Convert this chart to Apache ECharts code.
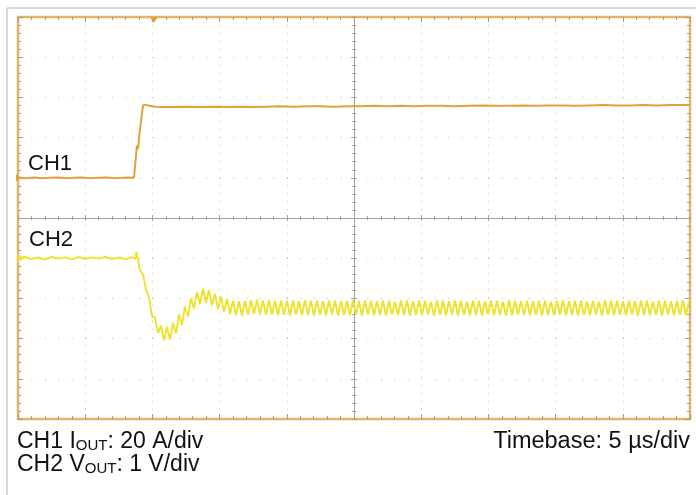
<!DOCTYPE html>
<html><head><meta charset="utf-8">
<script src="https://cdn.jsdelivr.net/npm/echarts@6/dist/echarts.min.js"></script>
<style>html,body{margin:0;padding:0;background:#fff}#c{width:696px;height:495px}</style>
</head><body><div id="c"></div>
<script>
// Time axis in microseconds (5 us/div, 10 divisions); vertical values in screen divisions (0 = bottom, 10 = top)
const timeRange = [0, 50];
const divRange = [0, 10];
const triggerTime = 10.1;

// CH1: output current [time us, division]
const ch1Trace = [
  [0,6.00],[0.6,5.99],[1.2,6.01],[1.8,5.99],[2.4,6.00],[3.0,6.01],[3.6,5.99],[4.2,6.00],[4.8,6.01],[5.4,5.99],
  [6.0,6.00],[6.6,6.01],[7.2,5.99],[7.8,6.00],[8.4,6.01],[8.63,6.00],[8.85,6.80],[8.93,6.72],[9.04,7.10],[9.30,7.80],
  [9.45,7.82],[9.7,7.80],[10.2,7.77],[10.8,7.76],[11.5,7.76],[12.5,7.77],[13.5,7.76],[14.5,7.77],[15.5,7.76],[16.5,7.77],
  [17.5,7.76],[18.5,7.77],[19.5,7.78],[20.5,7.77],[21.5,7.78],[22.5,7.78],[23.5,7.77],[24.5,7.78],[25.5,7.78],[26.5,7.79],
  [27.5,7.78],[28.5,7.79],[29.5,7.78],[30.5,7.79],[31.5,7.79],[32.5,7.78],[33.5,7.79],[34.5,7.80],[35.5,7.79],[36.5,7.79],
  [37.5,7.80],[38.5,7.79],[39.5,7.80],[40.5,7.80],[41.5,7.79],[42.5,7.80],[43.5,7.81],[44.5,7.80],[45.5,7.80],[46.5,7.81],
  [47.5,7.80],[48.5,7.81],[49.5,7.81],[50,7.81]
];

// CH2: output voltage before the load step [time us, division]
const ch2Hold = [
  [0,4.00],[0.5,4.03],[1.0,3.98],[1.5,4.02],[2.0,3.97],[2.5,4.03],[3.0,3.99],[3.5,4.02],[4.0,3.97],[4.5,4.03],
  [5.0,3.98],[5.5,4.02],[6.0,3.99],[6.5,4.03],[7.0,3.98],[7.5,4.02],[8.0,3.97],[8.5,4.03],[8.75,3.98],[8.80,4.15]
];

// CH2 after the step: samples every half switching period
const ch2RippleStart = 8.854;
const ch2RippleStep = 0.2232;
const ch2RippleValues = [
  4.10,3.70,3.60,3.22,3.03,2.55,2.52,2.14,2.32,1.95,
  2.29,1.97,2.39,2.13,2.60,2.34,2.80,2.55,3.00,2.75,
  3.16,2.86,3.24,2.89,3.21,2.83,3.12,2.74,3.05,2.66,
  2.98,2.61,2.94,2.58,2.93,2.57,2.94,2.59,2.96,2.61,
  2.97,2.60,2.95,2.59,2.96,2.60,2.94,2.58,2.95,2.59,
  2.94,2.57,2.95,2.60,2.93,2.58,2.96,2.59,2.94,2.57,
  2.95,2.59,2.93,2.58,2.94,2.60,2.95,2.57,2.93,2.59,
  2.94,2.58,2.96,2.59,2.93,2.57,2.95,2.60,2.94,2.58,
  2.93,2.59,2.95,2.57,2.94,2.60,2.92,2.58,2.95,2.59,
  2.94,2.57,2.93,2.59,2.95,2.58,2.94,2.60,2.92,2.57,
  2.95,2.59,2.94,2.58,2.93,2.60,2.95,2.57,2.94,2.59,
  2.92,2.58,2.95,2.59,2.94,2.57,2.93,2.60,2.95,2.58,
  2.94,2.59,2.92,2.57,2.95,2.58,2.94,2.60,2.93,2.59,
  2.95,2.58,2.93,2.59,2.94,2.57,2.95,2.59,2.92,2.58,
  2.94,2.60,2.95,2.58,2.93,2.59,2.94,2.57,2.95,2.59,
  2.93,2.58,2.94,2.60,2.92,2.57,2.95,2.59,2.94,2.58,
  2.95,2.59,2.93,2.58,2.94,2.60,2.93,2.57,2.95,2.59,
  2.94,2.58,2.92,2.59,2.95,2.57,2.94,2.60,2.93,2.58,
  2.94,2.59,2.95,2.58,2.93
];

const ch2Trace = ch2Hold.concat(ch2RippleValues.map((v, i) => [ch2RippleStart + i * ch2RippleStep, v]));

const COL_CH1 = '#E2A23A';
const COL_CH2 = '#EEE22C';
const COL_FRAME = '#E6B465';
const COL_CROSS = '#a3a394';
const FONT = '"Liberation Sans", Arial, Helvetica, sans-serif';
const PLOT = {left: 18, right: 6, top: 17, bottom: 76};

const chart = echarts.init(document.getElementById('c'), null, {renderer: 'canvas'});

function frameAxis(pos, extent, interval, split, dash) {
  return {
    type: 'value', gridIndex: 0, position: pos,
    min: extent[0], max: extent[1], interval: interval,
    axisLine: {show: false, onZero: false},
    axisTick: {show: true, inside: true, length: 5, lineStyle: {color: '#9a9a9a', width: 1}},
    minorTick: {show: true, splitNumber: 5, length: 3, lineStyle: {color: '#9a9a9a', width: 1}},
    axisLabel: {show: false},
    splitLine: {show: split, lineStyle: {color: '#bcbcbc', width: 1, type: dash}},
    minorSplitLine: {show: false}
  };
}
function crossAxis(dim, gridIndex, extent, interval, inside) {
  return {
    type: 'value', gridIndex: gridIndex, position: dim === 'x' ? 'bottom' : 'left',
    min: extent[0], max: extent[1], interval: interval,
    axisLine: {show: true, onZero: true, lineStyle: {color: COL_CROSS, width: 1}},
    axisTick: {show: true, inside: inside, length: 3, lineStyle: {color: COL_CROSS, width: 1}},
    minorTick: {show: true, splitNumber: 5, length: 2, lineStyle: {color: COL_CROSS, width: 1}},
    axisLabel: {show: false},
    splitLine: {show: false}
  };
}

const option = {
  animation: false,
  backgroundColor: '#ffffff',
  grid: [
    Object.assign({show: true, borderColor: COL_FRAME, borderWidth: 2.5, backgroundColor: 'transparent'}, PLOT),
    Object.assign({show: false}, PLOT),
    Object.assign({show: false}, PLOT)
  ],
  xAxis: [
    frameAxis('bottom', timeRange, 5, true, [1, 7]),
    frameAxis('top', timeRange, 5, false),
    crossAxis('x', 1, [-25, 25], 5, true),
    crossAxis('x', 2, [-25, 25], 5, false)
  ],
  yAxis: [
    frameAxis('left', divRange, 1, true, [1, 12.44]),
    frameAxis('right', divRange, 1, false),
    crossAxis('y', 1, [-5, 5], 1, true),
    crossAxis('y', 2, [-5, 5], 1, false)
  ],
  series: [
    {
      name: 'CH1', type: 'line', xAxisIndex: 0, yAxisIndex: 0, data: ch1Trace,
      showSymbol: false, lineStyle: {color: COL_CH1, width: 2}, z: 5,
      markPoint: {
        label: {show: false}, silent: true,
        data: [
          {coord: [triggerTime, divRange[1]], symbol: 'triangle', symbolSize: [8, 6], symbolRotate: 180, symbolOffset: [0, 3], itemStyle: {color: COL_CH1}},
          {coord: [ch1Trace[0][0], ch1Trace[0][1]], symbol: 'triangle', symbolSize: [7, 6], symbolRotate: -90, symbolOffset: [1, 0], itemStyle: {color: COL_CH1}}
        ]
      }
    },
    {
      name: 'CH2', type: 'line', xAxisIndex: 0, yAxisIndex: 0, data: ch2Trace,
      showSymbol: false, lineStyle: {color: COL_CH2, width: 1.9}, z: 4,
      markPoint: {
        label: {show: false}, silent: true,
        data: [
          {coord: [ch2Trace[0][0], ch2Trace[0][1]], symbol: 'triangle', symbolSize: [8, 7], symbolRotate: -90, symbolOffset: [3, 0], itemStyle: {color: COL_CH2}}
        ]
      }
    }
  ],
  graphic: [
    {type: 'line', silent: true, shape: {x1: 7, y1: 8, x2: 696, y2: 8}, style: {stroke: '#d4dbe0', lineWidth: 2}},
    {type: 'line', silent: true, shape: {x1: 7, y1: 8, x2: 7, y2: 495}, style: {stroke: '#d4dbe0', lineWidth: 2}},
    {type: 'text', x: 28, y: 164, z: 10, style: {text: 'CH1', fontSize: 22, fontFamily: FONT, fill: '#111', verticalAlign: 'middle'}},
    {type: 'text', x: 29, y: 240, z: 10, style: {text: 'CH2', fontSize: 22, fontFamily: FONT, fill: '#111', verticalAlign: 'middle'}},
    {type: 'text', x: 17, y: 430, z: 10, style: {
      text: '{a|CH1 I}{s|OUT}{a|: 20 A/div}\n{a|CH2 V}{s|OUT}{a|: 1 V/div}',
      verticalAlign: 'top', fill: '#111',
      rich: {
        a: {fontSize: 23, lineHeight: 23, fontFamily: FONT, fill: '#111', verticalAlign: 'bottom'},
        s: {fontSize: 15, lineHeight: 14, fontFamily: FONT, fill: '#111', verticalAlign: 'bottom'}
      }
    }},
    {type: 'text', x: 690, y: 441.5, z: 10, style: {text: 'Timebase: 5 \u00b5s/div', fontSize: 23.5, fontFamily: FONT, fill: '#111', align: 'right', verticalAlign: 'middle'}}
  ]
};
chart.setOption(option);
</script>
</body></html>
